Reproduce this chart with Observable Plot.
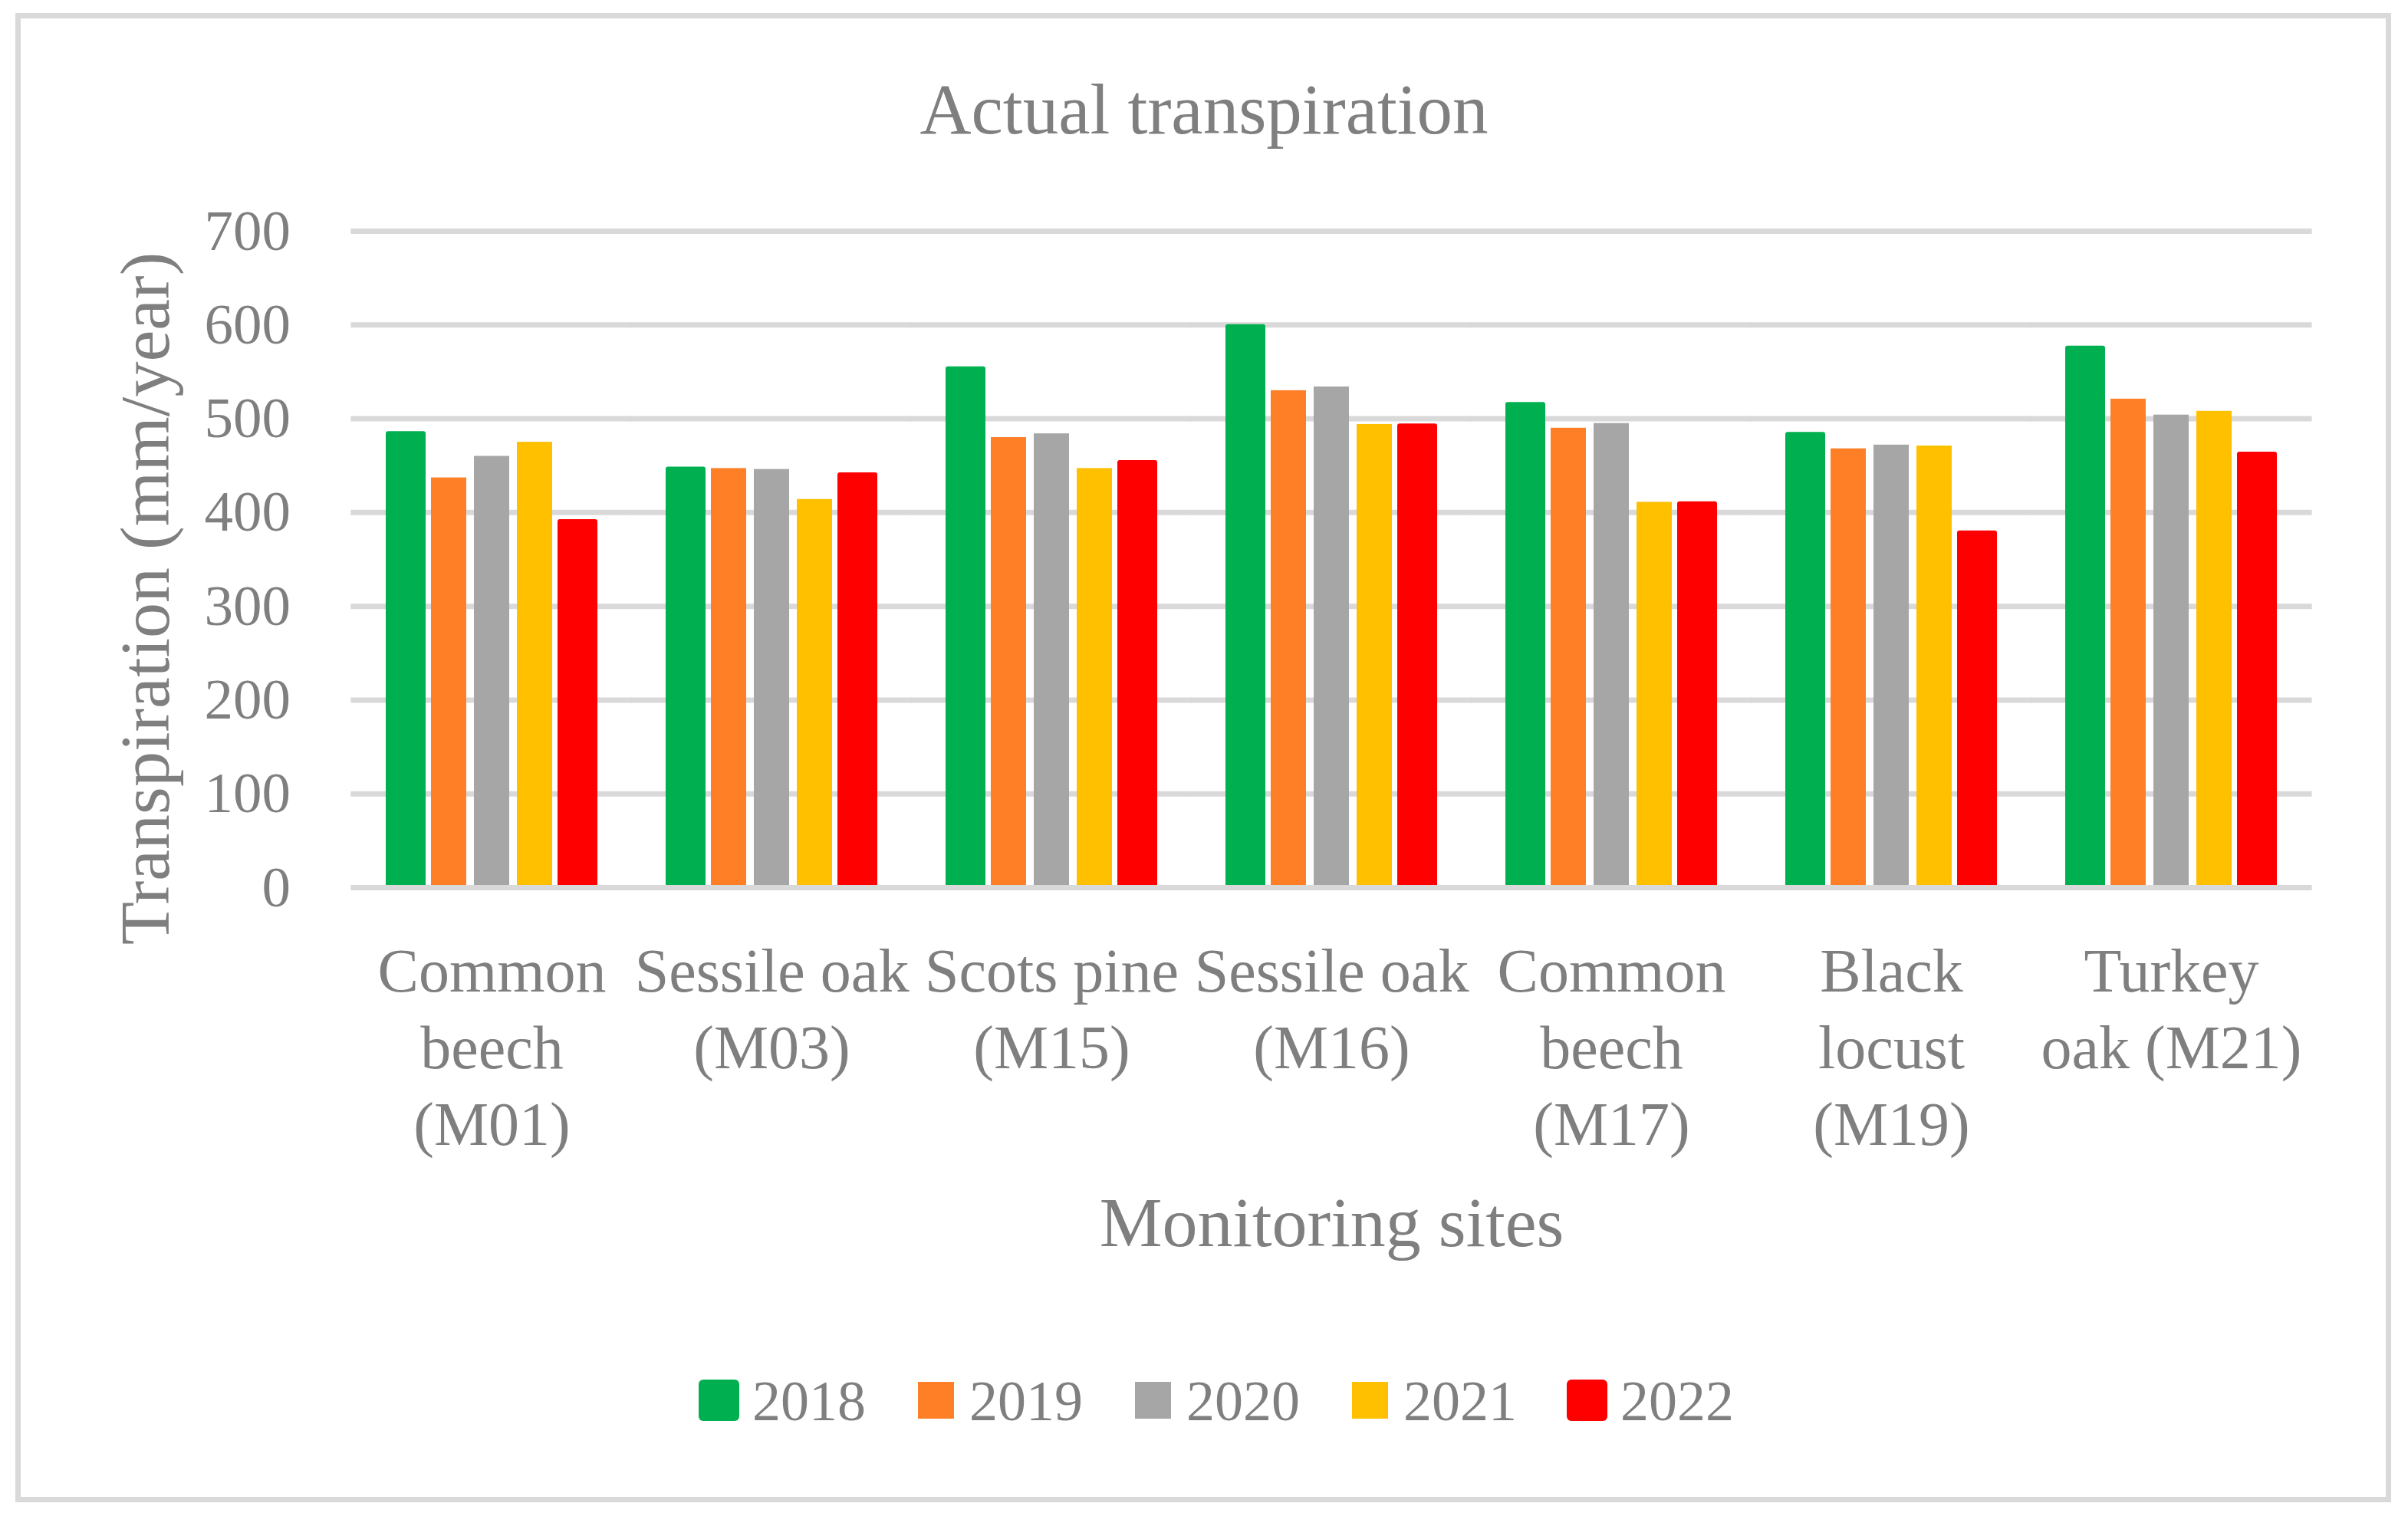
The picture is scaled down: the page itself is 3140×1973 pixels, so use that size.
<!DOCTYPE html>
<html><head><meta charset="utf-8">
<script src="https://cdn.jsdelivr.net/npm/d3@7"></script>
<script src="https://cdn.jsdelivr.net/npm/@observablehq/plot@0.6"></script>
<style>
html,body{margin:0;padding:0;background:#fff;}
#root{position:relative;width:3140px;height:1973px;overflow:hidden;font-family:"Liberation Serif",serif;color:#7f7f7f;background:#fff;}
#frame{position:absolute;left:20px;top:17px;width:3098px;height:1942px;box-sizing:border-box;border:7px solid #d9d9d9;}
#title{position:absolute;left:0;top:96px;width:3140px;text-align:center;font-size:93px;line-height:1;}
#chart{position:absolute;left:0;top:240px;}
#legend{position:absolute;left:914px;top:1790px;display:flex;align-items:flex-start;font-size:74px;line-height:1;}
.item{display:flex;align-items:flex-start;margin-right:68px;}
.sw{width:47px;height:48px;margin-top:12px;margin-right:20px;}
.ol{box-shadow:0 0 0 3px var(--c);border-radius:3px;}
</style>
</head><body>
<div id="root">
  <div id="frame"></div>
  <div id="title">Actual transpiration</div>
  <div id="chart"></div>
  <div id="legend"></div>
</div>
<script>
const sites = ["M01","M03","M15","M16","M17","M19","M21"];
const siteLabels = ["Common\nbeech\n(M01)","Sessile oak\n(M03)","Scots pine\n(M15)","Sessile oak\n(M16)","Common\nbeech\n(M17)","Black\nlocust\n(M19)","Turkey\noak (M21)"];
const years = ["2018","2019","2020","2021","2022"];
const colors = ["#00b050","#ff7f27","#a6a6a6","#ffc000","#ff0000"];
const v2018 = [484,446,553,598,515,483,575];
const v2019 = [437,447,480,530,490,468,521];
const v2020 = [460,446,484,534,495,472,504];
const v2021 = [475,414,447,494,411,471,508];
const v2022 = [390,440,453,492,409,378,462];
const yTicks = [0,100,200,300,400,500,600,700];
const outlinedYears = ["2018","2022"];

const series = [v2018, v2019, v2020, v2021, v2022];
const rows = [];
sites.forEach((s, i) => years.forEach((y, j) => rows.push({site: s, year: y, value: series[j][i]})));

const W = 3140, mL = 456, mR = 124;
const fxPadInner = 0.2275;
const step = (W - mL - mR) / sites.length;
const outerGap = step * fxPadInner / 2;
const gridExt = -(outerGap + 1);

const chart = Plot.plot({
  width: W, height: 1460,
  marginLeft: mL, marginRight: mR, marginTop: 61, marginBottom: 543,
  style: {fontFamily: "Liberation Serif", color: "#7f7f7f", background: "transparent", overflow: "visible"},
  fx: {domain: sites, paddingInner: fxPadInner, paddingOuter: fxPadInner / 2, label: null},
  x: {domain: years, paddingInner: 0.186, paddingOuter: 0.093, axis: null},
  y: {domain: [0, 700], axis: null},
  color: {domain: years, range: colors},
  marks: [
    Plot.ruleY(yTicks.filter(t => t > 0), {stroke: "#d9d9d9", strokeWidth: 7, insetLeft: gridExt, insetRight: gridExt}),
    Plot.barY(rows, {filter: d => !outlinedYears.includes(d.year), fx: "site", x: "year", y: "value", fill: "year"}),
    Plot.barY(rows, {filter: d => outlinedYears.includes(d.year), fx: "site", x: "year", y: "value", fill: "year", stroke: "year", strokeWidth: 6, strokeLinejoin: "round"}),
    Plot.ruleY([0], {stroke: "#d9d9d9", strokeWidth: 7, insetLeft: gridExt, insetRight: gridExt}),
    Plot.axisY({ticks: yTicks, tickSize: 0, tickPadding: 80 + outerGap, fontSize: 75, label: null}),
    Plot.axisFx({anchor: "bottom", tickFormat: d => siteLabels[sites.indexOf(d)], tickSize: 0, tickPadding: 64, fontSize: 80, lineHeight: 1.25, label: null}),
    Plot.text(["Transpiration (mm/year)"], {facet: "super", frameAnchor: "left", dx: -281, dy: 51, rotate: -90, textAnchor: "middle", lineAnchor: "bottom", fontSize: 92, fill: "currentColor"}),
    Plot.text(["Monitoring sites"], {facet: "super", frameAnchor: "bottom", dy: 467, lineAnchor: "bottom", fontSize: 92, fill: "currentColor"})
  ]
});
document.getElementById("chart").appendChild(chart);

const legend = document.getElementById("legend");
years.forEach((y, i) => {
  const item = document.createElement("div");
  item.className = "item";
  const sw = document.createElement("div");
  sw.className = "sw" + (outlinedYears.includes(y) ? " ol" : "");
  sw.style.background = colors[i];
  sw.style.setProperty("--c", colors[i]);
  const t = document.createElement("span");
  t.textContent = y;
  item.appendChild(sw); item.appendChild(t);
  legend.appendChild(item);
});
</script>
</body></html>
